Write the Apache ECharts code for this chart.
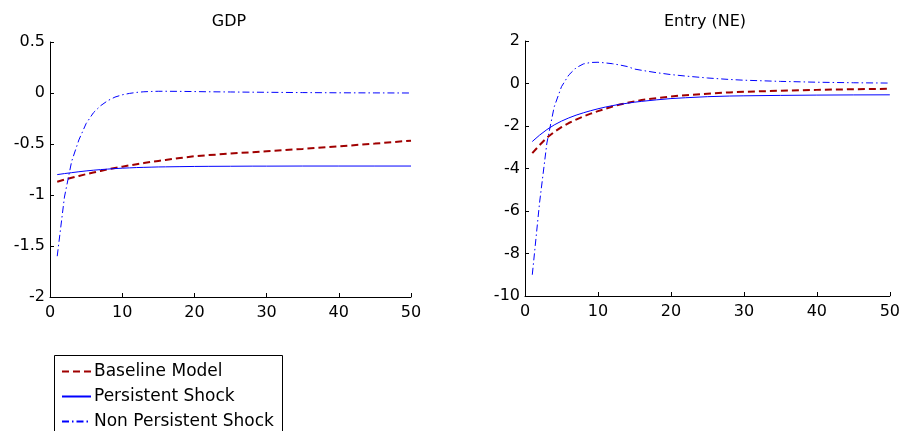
<!DOCTYPE html>
<html>
<head>
<meta charset="utf-8">
<script src="https://cdn.jsdelivr.net/npm/echarts@6/dist/echarts.min.js"></script>
<style>
  html, body { margin: 0; padding: 0; background: #fff; }
  #chart { width: 903px; height: 431px; }
</style>
</head>
<body>
<div id="chart"></div>
<script>
// periods (quarters after the shock)
var steps = [1, 2, 3, 4, 5, 6, 7, 8, 9, 10, 11, 12, 13, 14, 15, 16, 18, 20, 22, 25, 28, 30, 35, 40, 45, 50];

// GDP panel
var gdpBaseline = [-0.870, -0.850, -0.831, -0.813, -0.796, -0.780, -0.764, -0.749, -0.735, -0.722, -0.710, -0.698, -0.687, -0.676, -0.666, -0.656, -0.637, -0.620, -0.609, -0.594, -0.580, -0.571, -0.548, -0.523, -0.496, -0.467];
var gdpPersistent = [-0.800, -0.790, -0.781, -0.772, -0.764, -0.757, -0.751, -0.746, -0.741, -0.737, -0.734, -0.731, -0.729, -0.727, -0.725, -0.724, -0.722, -0.720, -0.719, -0.718, -0.717, -0.717, -0.716, -0.716, -0.716, -0.716];
var gdpNonPersistent = [-1.60, -1.02, -0.67, -0.46, -0.30, -0.195, -0.125, -0.075, -0.04, -0.018, -0.004, 0.006, 0.012, 0.015, 0.017, 0.017, 0.016, 0.014, 0.012, 0.010, 0.008, 0.007, 0.004, 0.002, 0.001, 0.0];

// Entry (NE) panel
var neBaseline = [-3.28, -2.90, -2.55, -2.28, -2.05, -1.86, -1.70, -1.55, -1.42, -1.30, -1.19, -1.08, -0.99, -0.91, -0.84, -0.78, -0.69, -0.61, -0.55, -0.48, -0.42, -0.39, -0.34, -0.30, -0.27, -0.25];
var nePersistent = [-2.73, -2.43, -2.17, -1.95, -1.77, -1.62, -1.49, -1.38, -1.28, -1.19, -1.11, -1.04, -0.98, -0.93, -0.88, -0.84, -0.77, -0.71, -0.67, -0.62, -0.59, -0.58, -0.56, -0.545, -0.537, -0.533];
var neNonPersistent = [-9.0, -5.6, -2.8, -1.1, -0.15, 0.40, 0.74, 0.92, 0.99, 1.0, 0.97, 0.93, 0.87, 0.80, 0.68, 0.62, 0.51, 0.42, 0.35, 0.26, 0.19, 0.155, 0.10, 0.06, 0.035, 0.02];

var names = ['Baseline Model', 'Persistent Shock', 'Non Persistent Shock'];
var titles = ['GDP', 'Entry (NE)'];

var font = 'DejaVu Sans';

function pairs(xs, ys) {
    return xs.map(function (x, i) { return [x, ys[i]]; });
}

function xAxisFor(idx) {
    return {
        type: 'value', gridIndex: idx, min: 0, max: 50, interval: 10,
        axisLine: { onZero: false, lineStyle: { color: '#000', width: 1 } },
        axisTick: { inside: true, length: 4, lineStyle: { color: '#000' } },
        axisLabel: { color: '#000', fontSize: 16, fontFamily: font, margin: 8 },
        splitLine: { show: false }
    };
}

function yAxisFor(idx, min, max, step) {
    return {
        type: 'value', gridIndex: idx, min: min, max: max, interval: step,
        axisLine: { show: true, onZero: false, lineStyle: { color: '#000', width: 1 } },
        axisTick: { show: true, inside: true, length: 4, lineStyle: { color: '#000' } },
        axisLabel: { color: '#000', fontSize: 16, fontFamily: font, margin: 5 },
        splitLine: { show: false }
    };
}

function lineSeries(name, idx, ys, color, width, dash) {
    return {
        name: name, type: 'line', xAxisIndex: idx, yAxisIndex: idx,
        data: pairs(steps, ys), showSymbol: false, symbol: 'none',
        smooth: false,
        lineStyle: { color: color, width: width, type: dash },
        itemStyle: { color: color },
        animation: false
    };
}

var chartDom = document.getElementById('chart');
var myChart = echarts.init(chartDom);
var option;

option = {
    animation: false,
    title: [
        { text: titles[0], left: 229, top: 14, textAlign: 'center', padding: 0,
          textStyle: { fontSize: 16, fontWeight: 'normal', color: '#000', fontFamily: font } },
        { text: titles[1], left: 705, top: 14, textAlign: 'center', padding: 0,
          textStyle: { fontSize: 16, fontWeight: 'normal', color: '#000', fontFamily: font } }
    ],
    grid: [
        { left: 50, top: 42, width: 361, height: 255 },
        { left: 525, top: 41, width: 365, height: 255 }
    ],
    xAxis: [xAxisFor(0), xAxisFor(1)],
    yAxis: [yAxisFor(0, -2, 0.5, 0.5), yAxisFor(1, -10, 2, 2)],
    // legend frame runs past the bottom edge, like the cropped original
    graphic: [
        { type: 'rect', left: 54, top: 355, z: 0,
          shape: { width: 228, height: 90 },
          style: { fill: '#fff', stroke: '#000', lineWidth: 1 } }
    ],
    legend: {
        data: names, orient: 'vertical', left: 61, top: 363,
        itemWidth: 29, itemHeight: 14, itemGap: 8,
        padding: 0,
        itemStyle: { opacity: 0 },
        textStyle: { fontSize: 17, fontFamily: font, color: '#000', padding: [0, 0, 0, -2] }
    },
    series: [
        lineSeries(names[0], 0, gdpBaseline, '#a00000', 2, [7, 4]),
        lineSeries(names[1], 0, gdpPersistent, '#0000ff', 1, 'solid'),
        lineSeries(names[2], 0, gdpNonPersistent, '#0000ff', 1, [7, 3, 1.5, 3]),
        lineSeries(names[0], 1, neBaseline, '#a00000', 2, [7, 4]),
        lineSeries(names[1], 1, nePersistent, '#0000ff', 1, 'solid'),
        lineSeries(names[2], 1, neNonPersistent, '#0000ff', 1, [7, 3, 1.5, 3])
    ]
};

option && myChart.setOption(option);
</script>
</body>
</html>
